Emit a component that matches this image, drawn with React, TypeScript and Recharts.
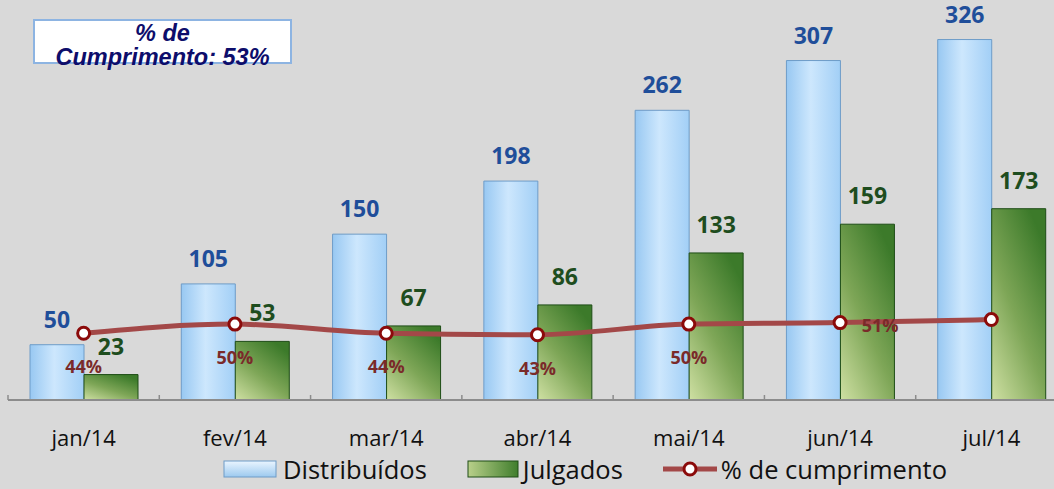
import React from "react";
import { ComposedChart, Bar, Line, XAxis, YAxis, LabelList } from "recharts";

const months = ["jan/14", "fev/14", "mar/14", "abr/14", "mai/14", "jun/14", "jul/14"];
const distribuidos = [50, 105, 150, 198, 262, 307, 326];
const julgados = [23, 53, 67, 86, 133, 159, 173];
const cumprimento = [44, 50, 44, 43, 50, 51, 53];
const pctLabels = ["44%", "50%", "44%", "43%", "50%", "51%", ""];

const data = months.map((m, i) => ({
  month: m,
  distribuidos: distribuidos[i],
  julgados: julgados[i],
  cumprimento: cumprimento[i],
  pct: pctLabels[i],
}));

const CHART_W = 1067;
const MARGIN_L = 8;
const BAND = (CHART_W - MARGIN_L) / months.length;
const FONT = "'Open Sans', sans-serif";

const MonthTick = (props: any) => {
  const { x, y, payload, index } = props;
  return (
    <g>
      <line x1={x - BAND / 2} x2={x - BAND / 2} y1={y - 5} y2={y} stroke="#8c8c8c" strokeWidth={1.5} />
      {index === months.length - 1 && (
        <line x1={x + BAND / 2} x2={x + BAND / 2} y1={y - 5} y2={y} stroke="#8c8c8c" strokeWidth={1.5} />
      )}
      <text x={x} y={y + 37} textAnchor="middle" dominantBaseline="central" fontFamily={FONT} fontSize={22} fill="#111">
        {payload.value}
      </text>
    </g>
  );
};

const PctLabel = (props: any) => {
  const { x, y, index } = props;
  const text = pctLabels[index];
  if (!text) return null;
  const right = index === 5;
  return (
    <text
      x={right ? x + 40 : x}
      y={right ? y + 2 : y + 33}
      textAnchor="middle"
      dominantBaseline="central"
      fontFamily={FONT}
      fontWeight="bold"
      fontSize={18}
      fill="#7a2a2a"
    >
      {text}
    </text>
  );
};

const LegendBox = () => (
  <div
    style={{
      position: "absolute",
      top: 452,
      left: 0,
      width: 1054,
      display: "flex",
      justifyContent: "center",
      alignItems: "center",
      fontFamily: FONT,
      fontSize: 25.5,
      color: "#111",
      paddingLeft: 116,
      boxSizing: "border-box",
    }}
  >
    <svg width={54} height={20} style={{ marginRight: 6 }}>
      <defs>
        <linearGradient id="lgBlue" x1="0" y1="0" x2="0" y2="1">
          <stop offset="0" stopColor="#eaf5ff" />
          <stop offset="1" stopColor="#9cc9ef" />
        </linearGradient>
      </defs>
      <rect x={1} y={2} width={52} height={16} fill="url(#lgBlue)" stroke="#6e9cc8" />
    </svg>
    <span style={{ marginRight: 40 }}>Distribuídos</span>
    <svg width={52} height={20} style={{ marginRight: 4 }}>
      <defs>
        <linearGradient id="lgGreen" x1="0" y1="0" x2="1" y2="0">
          <stop offset="0" stopColor="#b9d08a" />
          <stop offset="1" stopColor="#3f7d2c" />
        </linearGradient>
      </defs>
      <rect x={1} y={2} width={50} height={16} fill="url(#lgGreen)" stroke="#1e4d16" />
    </svg>
    <span style={{ marginRight: 38 }}>Julgados</span>
    <svg width={58} height={20} style={{ marginRight: 2 }}>
      <line x1={2} x2={56} y1={10} y2={10} stroke="#a34848" strokeWidth={5} />
      <circle cx={29} cy={10} r={6} fill="#fff" stroke="#8b0a0a" strokeWidth={3} />
    </svg>
    <span>% de cumprimento</span>
  </div>
);

const App: React.FC = () => (
  <div
    style={{
      position: "absolute",
      left: 0,
      top: 0,
      width: 1054,
      height: 489,
      background: "#d9d9d9",
      overflow: "hidden",
    }}
  >
    <ComposedChart
      width={CHART_W}
      height={489}
      data={data}
      margin={{ top: 13, right: 0, bottom: 0, left: MARGIN_L }}
      barGap={0}
    >
      <defs>
        <linearGradient id="blueGrad" x1="0" y1="0" x2="1" y2="0">
          <stop offset="0" stopColor="#98c8f2" />
          <stop offset="0.45" stopColor="#cde7fd" />
          <stop offset="1" stopColor="#a2cff6" />
        </linearGradient>
        <linearGradient id="greenGrad" x1="0" y1="1" x2="0.7" y2="0">
          <stop offset="0" stopColor="#cfe0a3" />
          <stop offset="0.5" stopColor="#7ea657" />
          <stop offset="1" stopColor="#3c7a2a" />
        </linearGradient>
      </defs>
      <XAxis
        dataKey="month"
        height={89}
        tickLine={false}
        tickSize={0}
        tickMargin={0}
        axisLine={{ stroke: "#8c8c8c", strokeWidth: 2 }}
        tick={<MonthTick />}
        interval={0}
      />
      <YAxis yAxisId="left" hide domain={[0, 350]} />
      <YAxis yAxisId="right" orientation="right" hide domain={[0, 255]} />
      <Bar
        yAxisId="left"
        dataKey="distribuidos"
        barSize={54}
        fill="url(#blueGrad)"
        stroke="#6e9cc8"
        strokeWidth={1}
        isAnimationActive={false}
      >
        <LabelList
          dataKey="distribuidos"
          position="top"
          offset={17}
          fill="#1f4e9a"
          fontFamily={FONT}
          fontWeight="bold"
          fontSize={23}
        />
      </Bar>
      <Bar
        yAxisId="left"
        dataKey="julgados"
        barSize={54}
        fill="url(#greenGrad)"
        stroke="#1e4d16"
        strokeWidth={1}
        isAnimationActive={false}
      >
        <LabelList
          dataKey="julgados"
          position="top"
          offset={20}
          fill="#1e4d1e"
          fontFamily={FONT}
          fontWeight="bold"
          fontSize={23}
        />
      </Bar>
      <Line
        yAxisId="right"
        type="monotone"
        dataKey="cumprimento"
        stroke="#a34848"
        strokeWidth={5}
        dot={{ r: 6, fill: "#fff", stroke: "#8b0a0a", strokeWidth: 3 }}
        isAnimationActive={false}
      >
        <LabelList dataKey="pct" content={<PctLabel />} />
      </Line>
    </ComposedChart>
    <div
      style={{
        position: "absolute",
        left: 33,
        top: 19,
        width: 255,
        height: 41,
        background: "#fff",
        border: "2px solid #8db4e2",
        fontFamily: "'Liberation Sans', Arial, sans-serif",
        fontWeight: "bold",
        fontStyle: "italic",
        fontSize: 23.5,
        lineHeight: "24px",
        color: "#0d0d6b",
        textAlign: "center",
        whiteSpace: "nowrap",
      }}
    >
      % de
      <br />
      Cumprimento: 53%
    </div>
    <LegendBox />
  </div>
);

export default App;
